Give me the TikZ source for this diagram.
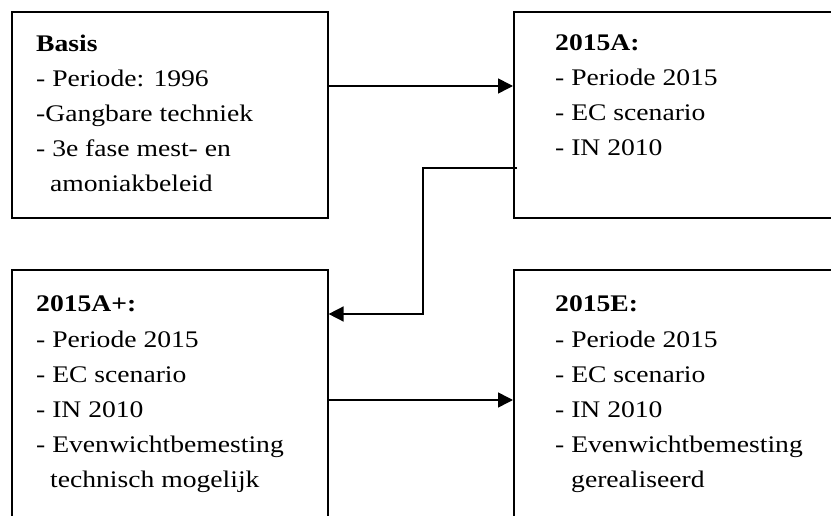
\documentclass[tikz,border=0pt]{standalone}
\usepackage{fontspec}
\setmainfont{Liberation Serif}[FakeStretch=1.16]
\usetikzlibrary{arrows.meta}
\tikzset{
  box/.style={draw=black, line width=1.6pt, rectangle, inner sep=0pt, anchor=north west},
  arr/.style={draw=black, line width=1.6pt, -{Triangle[length=15pt,width=15pt]}},
  ln/.style={anchor=base west, inner sep=0pt, font=\fontsize{23.8}{30}\selectfont},
  hd/.style={ln, font=\fontsize{23.8}{30}\selectfont\bfseries},
}
\begin{document}
\begin{tikzpicture}[x=1pt, y=-1pt]
\useasboundingbox (0,0) rectangle (831,516);
\begin{scope}
\clip (0,0) rectangle (831,516);
\node[box, minimum width=316pt, minimum height=206pt] (b1) at (11,11) {};
\node[box, minimum width=360pt, minimum height=206pt] (b2) at (513,11) {};
\node[box, minimum width=316pt, minimum height=300pt] (b3) at (11,269) {};
\node[box, minimum width=360pt, minimum height=300pt] (b4) at (513,269) {};

% box 1 text
\node[hd] (t11) at (36,52) {Basis};
\node[ln] (t12) at (36,87) {- Periode: 1996};
\node[ln] (t13) at (36,122) {-Gangbare techniek};
\node[ln] (t14) at (36,157) {- 3e fase mest- en};
\node[ln] (t15) at (50,192) {amoniakbeleid};
% box 2 text
\node[hd] (t21) at (555,51) {2015A:};
\node[ln] (t22) at (555,86) {- Periode 2015};
\node[ln] (t23) at (555,121) {- EC scenario};
\node[ln] (t24) at (555,156) {- IN 2010};
% box 3 text
\node[hd] (t31) at (36,312) {2015A+:};
\node[ln] (t32) at (36,347) {- Periode 2015};
\node[ln] (t33) at (36,382) {- EC scenario};
\node[ln] (t34) at (36,417) {- IN 2010};
\node[ln] (t35) at (36,452) {- Evenwichtbemesting};
\node[ln] (t36) at (50,487) {technisch mogelijk};
% box 4 text
\node[hd] (t41) at (555,312) {2015E:};
\node[ln] (t42) at (555,347) {- Periode 2015};
\node[ln] (t43) at (555,382) {- EC scenario};
\node[ln] (t44) at (555,417) {- IN 2010};
\node[ln] (t45) at (555,452) {- Evenwichtbemesting};
\node[ln] (t46) at (571,487) {gerealiseerd};

% connectors
\draw[arr] ([yshift=-75pt]b1.north east) -- ([yshift=-75pt]b2.north west);
\draw[arr] ([xshift=4pt,yshift=-157pt]b2.north west) -- ++(-94,0) |- ([yshift=-45pt]b3.north east);
\draw[arr] ([yshift=-131pt]b3.north east) -- ([yshift=-131pt]b4.north west);
\end{scope}
\end{tikzpicture}
\end{document}
